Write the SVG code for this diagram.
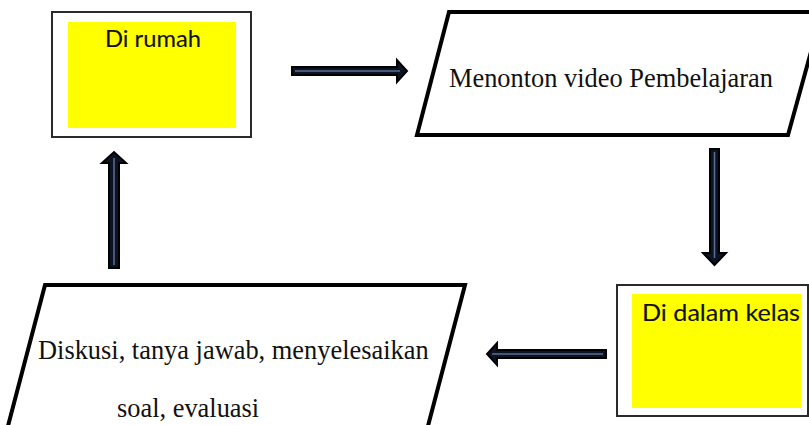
<svg xmlns="http://www.w3.org/2000/svg" width="809" height="425" viewBox="0 0 809 425">
  <style>
    .frame { fill: #ffffff; stroke: #2a2a2a; stroke-width: 2; }
    .pad { fill: #ffff00; }
    .para { fill: #ffffff; stroke: #000000; stroke-width: 4; stroke-linejoin: miter; }
    .sans { font-family: Lato, "Open Sans", "Liberation Sans", sans-serif; font-size: 23px; fill: #111111; stroke: #111111; stroke-width: 0.12; }
    .serif { font-family: "Liberation Serif", "Times New Roman", serif; font-size: 26.4px; fill: #111111; }
    .arrow { fill: #0c1424; stroke: #000000; stroke-width: 2; stroke-linejoin: miter; }
    .core { stroke: #5a6f92; stroke-width: 1.5; fill: none; }
  </style>

  <rect width="809" height="425" fill="#ffffff"/>

  <!-- connectors: block arrows with a light core line -->
  <g id="connectors">
    <!-- home -> video -->
    <polygon class="arrow" points="292,67 397,67 397,60 407,71 397,82 397,75 292,75"/>
    <line class="core" x1="295" y1="71" x2="400" y2="71"/>
    <!-- video -> classroom -->
    <polygon class="arrow" points="710,149 719,149 719,253 726,253 714.5,265 703,253 710,253"/>
    <line class="core" x1="714.5" y1="152" x2="714.5" y2="258"/>
    <!-- classroom -> discussion -->
    <polygon class="arrow" points="606,350 606,358 497,358 497,365 487,354 497,343 497,350"/>
    <line class="core" x1="603" y1="354" x2="492" y2="354"/>
    <!-- discussion -> home -->
    <polygon class="arrow" points="109,268 119,268 119,163 126,163 114,152 102,163 109,163"/>
    <line class="core" x1="114" y1="265" x2="114" y2="158"/>
  </g>

  <g id="node-rumah">
    <rect class="frame" x="52" y="12" width="199" height="125"/>
    <rect class="pad" x="68" y="22" width="168" height="106"/>
    <text class="sans" x="105" y="47" textLength="96" lengthAdjust="spacingAndGlyphs">Di rumah</text>
  </g>

  <g id="node-video">
    <polygon class="para" points="449,12 822,12 788,135 417,135"/>
    <text class="serif" x="449" y="87">Menonton video Pembelajaran</text>
  </g>

  <g id="node-kelas">
    <rect class="frame" x="617" y="285" width="191" height="131"/>
    <rect class="pad" x="632" y="294" width="169" height="114"/>
    <text class="sans" x="642" y="321" textLength="158" lengthAdjust="spacingAndGlyphs">Di dalam kelas</text>
  </g>

  <g id="node-diskusi">
    <polygon class="para" points="45,285 465,285 423,445 3,445"/>
    <text class="serif" x="38" y="359">Diskusi, tanya jawab, menyelesaikan</text>
    <text class="serif" x="117" y="417">soal, evaluasi</text>
  </g>
</svg>
